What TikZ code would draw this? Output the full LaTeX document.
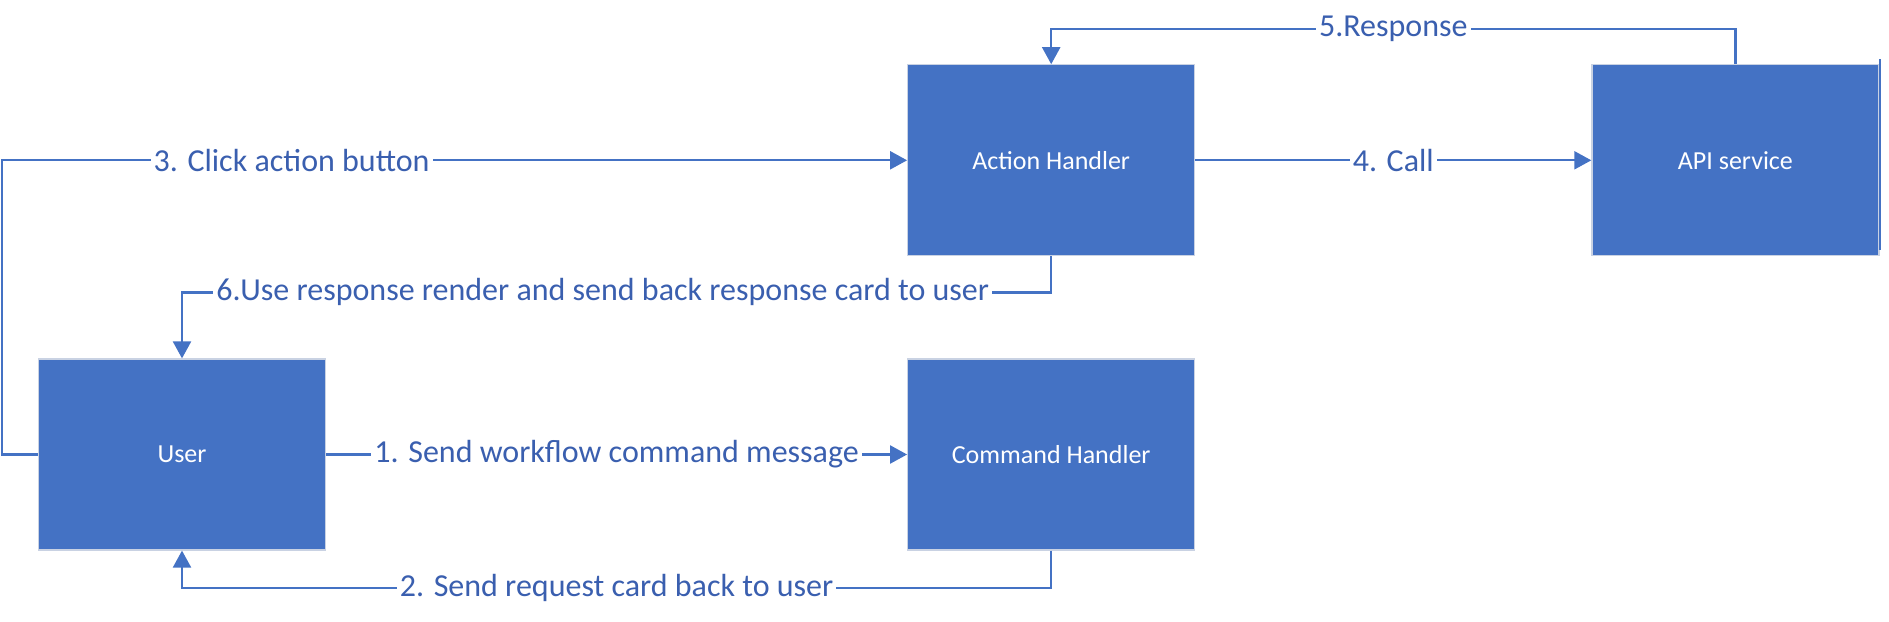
\documentclass[tikz,border=0pt]{standalone}
\usepackage{fontspec}
\setmainfont{Carlito}
\usepackage{xcolor}
\usetikzlibrary{positioning, arrows.meta}

\definecolor{boxblue}{HTML}{4472C4}
\definecolor{boxedge}{HTML}{C9D2E3}
\definecolor{textblue}{HTML}{3A5FAF}

\begin{document}
\begin{tikzpicture}[x=0.5pt, y=-0.5pt,
    >={Triangle[length=8.5pt,width=9pt]},
    block/.style={rectangle, fill=boxblue, draw=boxedge, line width=0.6pt,
        minimum width=143.5pt, minimum height=95.5pt, inner sep=0pt,
        text=white, font=\fontsize{13}{16}\selectfont},
    flow/.style={->, draw=boxblue, line width=1.1pt},
    lbl/.style={fill=white, text=textblue, inner sep=1.5pt,
        font=\fontsize{16}{19}\selectfont}]
        \useasboundingbox (0,0) rectangle (1889,621);

        \node[block] (user) at (182,454.5) {User};
        \node[block, right=290.5pt of user] (cmd) {Command Handler};
        \node[block, above=51pt of cmd] (act) {Action Handler};
        \node[block, right=198pt of act] (api) {API service};

        \draw[flow] (user) -- node[lbl]{1. Send workflow command message} (cmd);
        \draw[flow] (cmd.south) -- ++(0,37) -| node[lbl, pos=0.25]{2. Send request card back to user} (user.south);
        \draw[flow] (user.west) -- ++(-36,0) |- node[lbl, pos=0.66]{3. Click action button} (act.west);
        \draw[flow] (act) -- node[lbl]{4. Call} (api);
        \draw[flow] (api.north) -- ++(0,-35) -| node[lbl, pos=0.25]{5.Response} (act.north);
        \draw[flow] (act.south) -- ++(0,36) -| node[lbl, pos=0.258]{6.Use response render and send back response card to user} (user.north);

        \draw[boxblue, line width=0.8pt] (1880,59) -- (1880,250);
      \end{tikzpicture}
\end{document}
